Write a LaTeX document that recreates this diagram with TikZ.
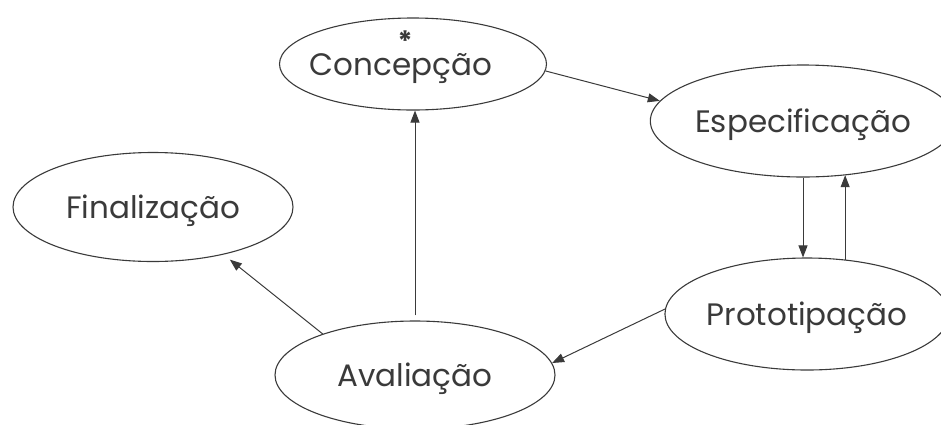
\documentclass[tikz,border=0pt]{standalone}
\usepackage{fontspec}
\setmainfont{Poppins}
\usetikzlibrary{shapes.geometric,arrows.meta}
\definecolor{ink}{HTML}{3A3A3A}
\tikzset{
  phase/.style={ellipse, draw=ink, line width=1.1pt, inner sep=0pt,
    text=ink, text height=22pt, text depth=0pt,
    font=\fontsize{31}{31}\selectfont},
  flow/.style={draw=ink, line width=1pt,
    -{Triangle[length=12pt,width=9pt]}}
}
\begin{document}
\begin{tikzpicture}[x=1pt,y=-1pt]
  \useasboundingbox (0,0) rectangle (941,424);
  % process phases
  \node[phase, minimum width=267pt, minimum height=92pt] (conc) at (413,64)
    {\makebox[150pt][c]{Concepção\kern24pt}};
  \node[text=ink, font=\fontsize{28}{28}\selectfont\bfseries, inner sep=0pt,
    anchor=base] (star) at (405,51) {\smash{*}};
  \node[phase, minimum width=276pt, minimum height=112pt] (esp) at (803,121) {Especificação};
  \node[phase, minimum width=268pt, minimum height=112pt] (proto) at (807,314) {Prototipação};
  \node[phase, minimum width=280pt, minimum height=109pt] (fin) at (153,207) {Finalização};
  \node[phase, minimum width=280pt, minimum height=108pt] (aval) at (415,375) {Avaliação};
  % transitions between phases
  \draw[flow] (conc.-3) -- (esp.172);
  \draw[flow] (esp.south) -- (esp.south |- proto.north);
  \draw[flow] (proto.55) -- (proto.55 |- esp.-51);
  \draw[flow] (proto.178) -- (aval.5);
  \draw[flow, shorten <=5pt] (aval.north) -- (aval.north |- conc.south);
  \draw[flow, shorten >=8pt] (aval.156) -- (fin.-34);
\end{tikzpicture}
\end{document}
